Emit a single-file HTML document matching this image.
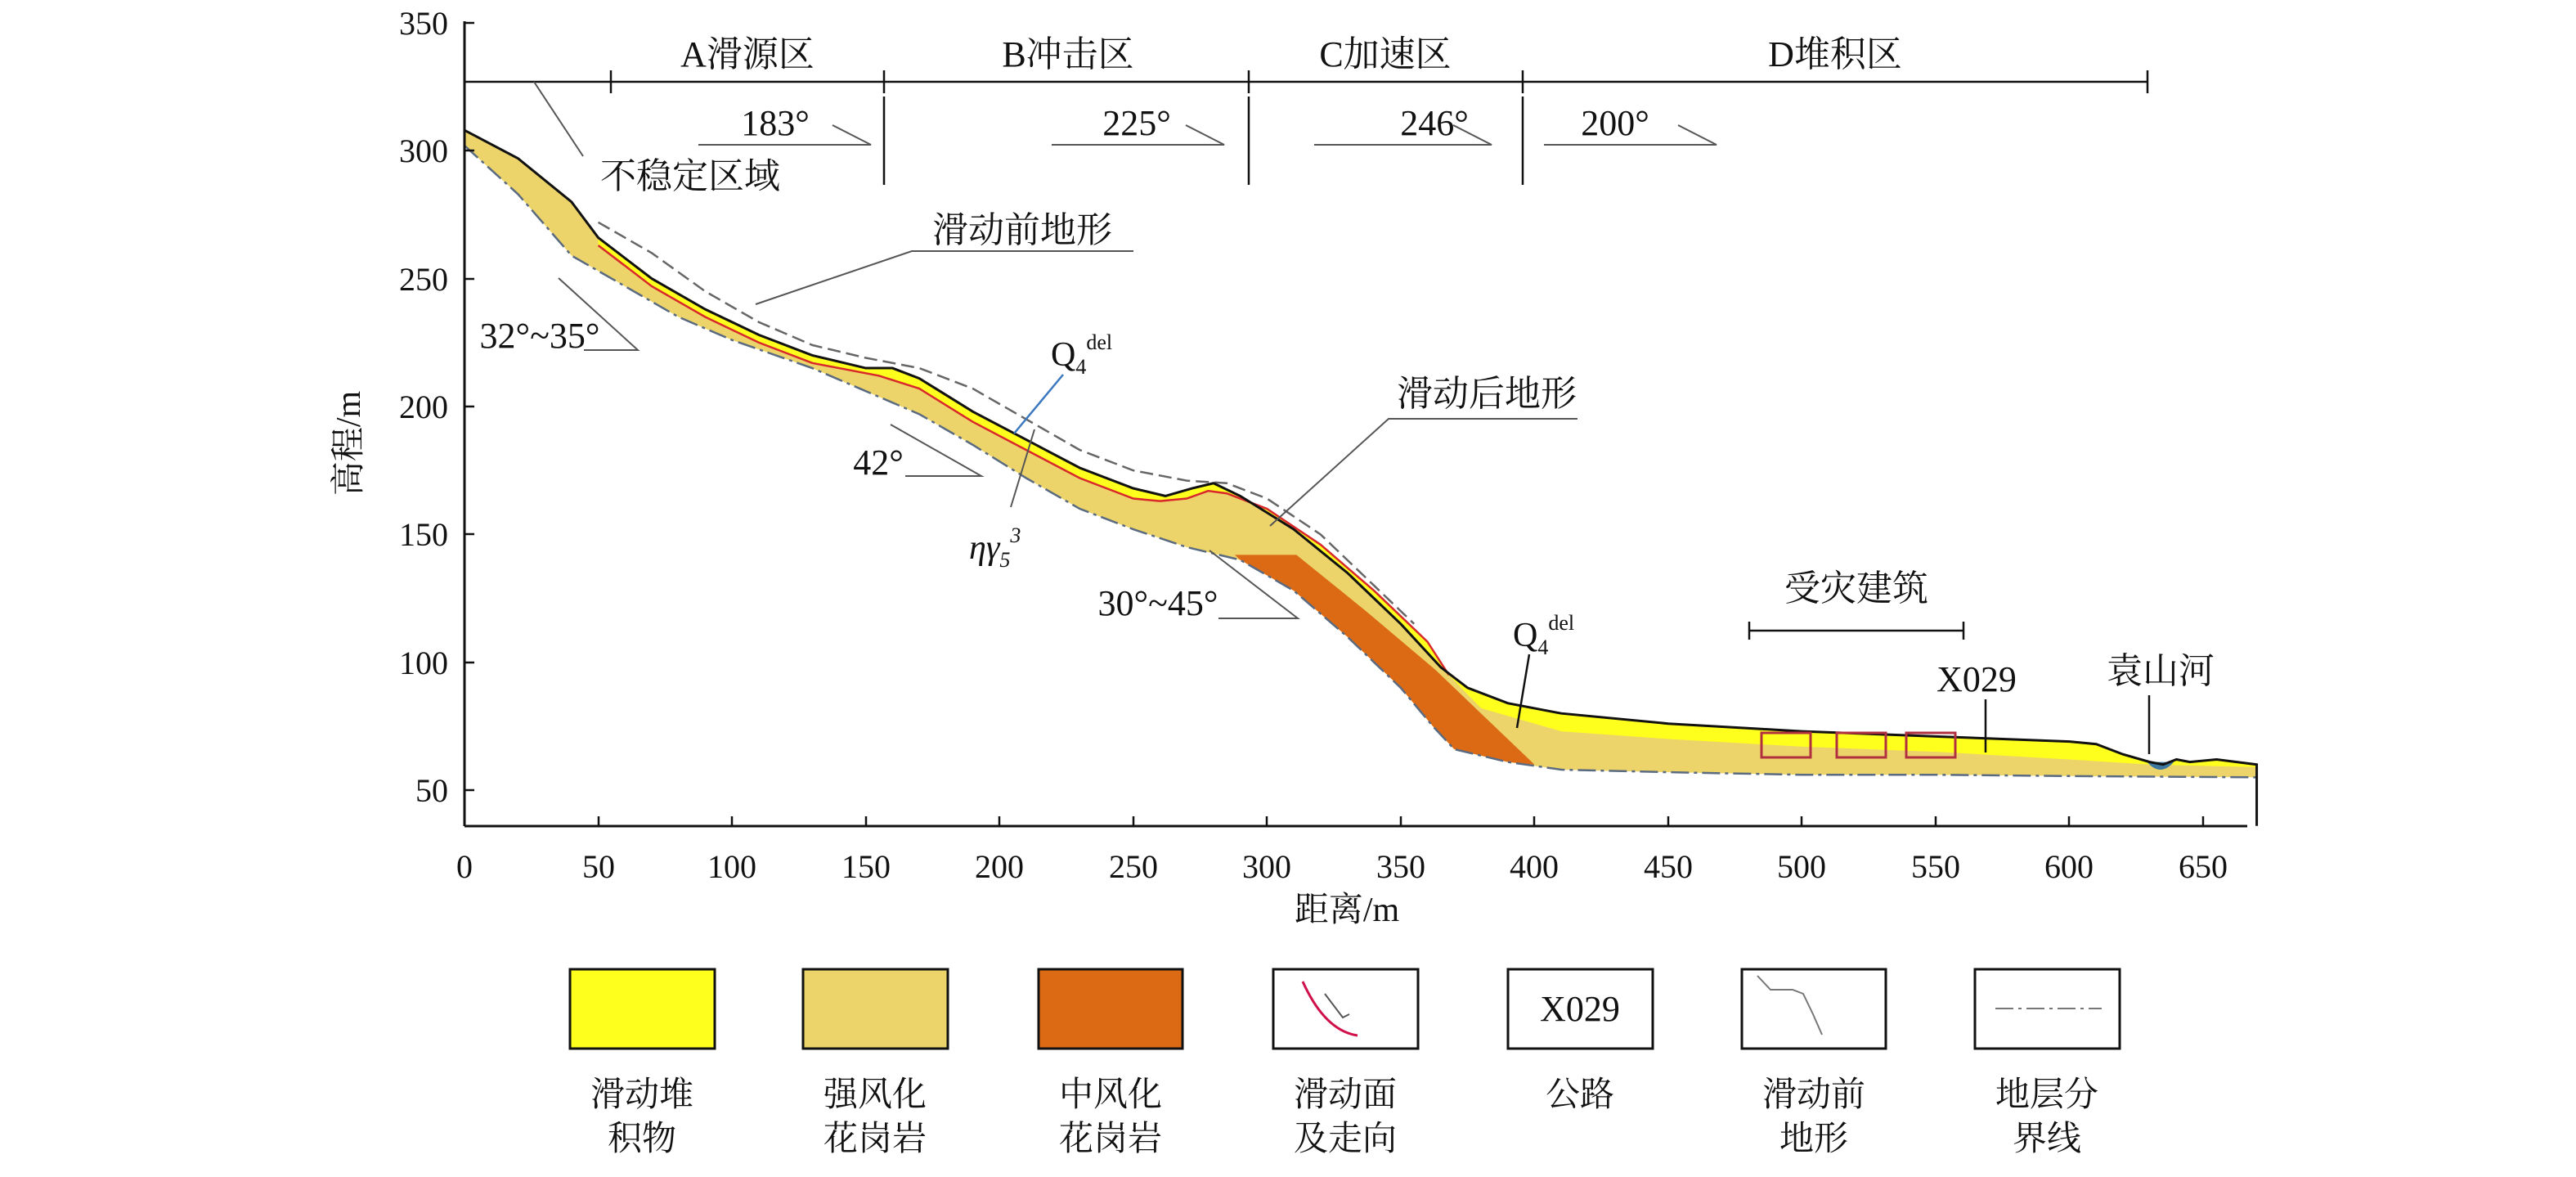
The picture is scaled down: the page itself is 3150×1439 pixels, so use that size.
<!DOCTYPE html>
<html><head><meta charset="utf-8"><style>
html,body{margin:0;padding:0;background:#fff;}
svg text{font-family:"Liberation Serif","Noto Serif CJK SC",serif;fill:#111;}
</style></head><body>
<svg width="3150" height="1434" viewBox="0 0 3150 1434" xmlns="http://www.w3.org/2000/svg">
<rect width="3150" height="1434" fill="#fff"/>
<g transform="matrix(3.271 0 0 -3.127 568 1122.35)">
<polygon fill="#ecd46a" points="0,308 20,297 40,280 50,266 70,250 90,238 110,228 130,220 150,215 160,215 170,211 190,198 210,187 230,176 250,168 262,165 272,168 280,170 290,165 310,152 330,135 350,115 365,98 375,90 390,84 410,80 450,76 500,73 550,71 600,69 610,68 620,64 630,61 635,60 640,62 645,61 655,62 670,60 670,55 600,55.5 550,56 500,56 450,57 410,58 390,61 370,66 362,75 350,90 330,110 310,128 290,140 270,145 250,152 230,160 210,172 190,185 170,197 150,206 130,215 100,226 80,235 60,247 40,259 20,283 0,302"/>
<polygon fill="#ffff1e" points="50,266 70,250 90,238 110,228 130,220 150,215 160,215 170,211 190,198 210,187 230,176 250,168 262,165 272,168 280,170 290,165 310,152 330,135 350,115 365,98 375,90 390,84 410,80 450,76 500,73 550,71 600,69 610,68 620,64 630,61 635,60 640,62 645,61 655,62 670,60 670,59 630,60 600,62 550,65 500,67 450,70 410,73 380,82 368,95 360,108 340,128 320,146 300,160 285,166 278,167 270,164 260,163 250,164 230,172 210,183 190,194 170,207 155,212 130,217 110,225 90,235 70,247 50,263"/>
<polygon fill="#dc6a14" points="288,142 311,142 337,120 363,97 380,80 400,60 390,61 370,66 362,75 350,90 330,110 310,128 290,140"/>
<path d="M629,61 Q634,55 639,61 Z" fill="#3c78a0"/>
<polyline fill="none" stroke="#5a6a80" stroke-width="2.5" vector-effect="non-scaling-stroke" stroke-dasharray="22,6,4,6" points="0,302 20,283 40,259 60,247 80,235 100,226 130,215 150,206 170,197 190,185 210,172 230,160 250,152 270,145 290,140 310,128 330,110 350,90 362,75 370,66 390,61 410,58 450,57 500,56 550,56 600,55.5 670,55"/>
<polyline fill="none" stroke="#d8282c" stroke-width="2.5" vector-effect="non-scaling-stroke" points="50,263 70,247 90,235 110,225 130,217 155,212 170,207 190,194 210,183 230,172 250,164 260,163 270,164 278,167 285,166 300,160 320,146 340,128 360,108 368,95"/>
<polyline fill="none" stroke="#666" stroke-width="2.5" vector-effect="non-scaling-stroke" stroke-dasharray="16,7" points="50,272 70,260 90,245 110,233 130,224 150,219 170,215 190,207 210,195 230,183 250,175 270,171 285,170 300,164 320,150 340,130 355,115"/>
<polyline fill="none" stroke="#111" stroke-width="3" vector-effect="non-scaling-stroke" points="0,308 20,297 40,280 50,266 70,250 90,238 110,228 130,220 150,215 160,215 170,211 190,198 210,187 230,176 250,168 262,165 272,168 280,170 290,165 310,152 330,135 350,115 365,98 375,90 390,84 410,80 450,76 500,73 550,71 600,69 610,68 620,64 630,61 635,60 640,62 645,61 655,62 670,60 670,36"/>
</g>
<g fill="none" stroke="#b03040" stroke-width="3">
<rect x="2154" y="896" width="60" height="30"/><rect x="2246" y="896" width="60" height="30"/><rect x="2331" y="896" width="60" height="30"/>
</g>
<g stroke="#111" stroke-width="3" fill="none">
<line x1="568" y1="26" x2="568" y2="1010"/>
<line x1="568" y1="1010" x2="2748" y2="1010"/>
</g>
<g stroke="#111" stroke-width="2.5">
<line x1="568" y1="28" x2="580" y2="28"/><line x1="568" y1="184" x2="580" y2="184"/><line x1="568" y1="341" x2="580" y2="341"/><line x1="568" y1="497" x2="580" y2="497"/><line x1="568" y1="653" x2="580" y2="653"/><line x1="568" y1="810" x2="580" y2="810"/><line x1="568" y1="966" x2="580" y2="966"/>
<line x1="732" y1="1010" x2="732" y2="998"/><line x1="895" y1="1010" x2="895" y2="998"/><line x1="1059" y1="1010" x2="1059" y2="998"/><line x1="1222" y1="1010" x2="1222" y2="998"/><line x1="1386" y1="1010" x2="1386" y2="998"/><line x1="1549" y1="1010" x2="1549" y2="998"/><line x1="1713" y1="1010" x2="1713" y2="998"/><line x1="1876" y1="1010" x2="1876" y2="998"/><line x1="2040" y1="1010" x2="2040" y2="998"/><line x1="2203" y1="1010" x2="2203" y2="998"/><line x1="2367" y1="1010" x2="2367" y2="998"/><line x1="2530" y1="1010" x2="2530" y2="998"/><line x1="2694" y1="1010" x2="2694" y2="998"/>
</g>
<g font-size="40" text-anchor="end">
<text x="548" y="42">350</text><text x="548" y="198">300</text><text x="548" y="355">250</text><text x="548" y="511">200</text><text x="548" y="667">150</text><text x="548" y="824">100</text><text x="548" y="980">50</text>
</g>
<g font-size="40" text-anchor="middle">
<text x="568" y="1073">0</text><text x="732" y="1073">50</text><text x="895" y="1073">100</text><text x="1059" y="1073">150</text><text x="1222" y="1073">200</text><text x="1386" y="1073">250</text><text x="1549" y="1073">300</text><text x="1713" y="1073">350</text><text x="1876" y="1073">400</text><text x="2040" y="1073">450</text><text x="2203" y="1073">500</text><text x="2367" y="1073">550</text><text x="2530" y="1073">600</text><text x="2694" y="1073">650</text>
<text x="1647" y="1126" font-size="42">距离/m</text>
<text transform="translate(440,542) rotate(-90)" font-size="42">高程/m</text>
</g>
<g stroke="#111" stroke-width="2.5" fill="none">
<line x1="568" y1="100" x2="2626" y2="100"/>
<line x1="747" y1="86" x2="747" y2="114"/><line x1="1081" y1="86" x2="1081" y2="114"/><line x1="1527" y1="86" x2="1527" y2="114"/><line x1="1862" y1="86" x2="1862" y2="114"/><line x1="2626" y1="86" x2="2626" y2="114"/>
<line x1="1081" y1="118" x2="1081" y2="226"/><line x1="1527" y1="118" x2="1527" y2="226"/><line x1="1862" y1="118" x2="1862" y2="226"/>
</g>
<g stroke="#555" stroke-width="2" fill="none">
<polyline points="854,177 1065,177 1018,153"/>
<polyline points="1286,177 1497,177 1450,153"/>
<polyline points="1607,177 1824,177 1777,153"/>
<polyline points="1888,177 2099,177 2052,153"/>
<line x1="653" y1="100" x2="713" y2="191"/>
<polyline points="1386,307 1115,307 924,372"/>
<polyline points="683,340 780,428 714,428"/>
<polyline points="1929,512 1698,512 1553,643"/>
<polyline points="1089,519 1200,582 1107,582"/>
<polyline points="1479,673 1587,756 1490,756"/>
<line x1="1236" y1="620" x2="1265" y2="525"/>
</g>
<g stroke="#111" stroke-width="2.5" fill="none">
<line x1="1300" y1="458" x2="1240" y2="530" stroke="#3c78c0"/>
<line x1="1870" y1="800" x2="1855" y2="890"/>
<line x1="2139" y1="771" x2="2401" y2="771"/><line x1="2139" y1="760" x2="2139" y2="782"/><line x1="2401" y1="760" x2="2401" y2="782"/>
<line x1="2428" y1="855" x2="2428" y2="920"/>
<line x1="2628" y1="850" x2="2628" y2="922"/>
</g>
<g font-size="44" text-anchor="middle">
<text x="914" y="81">A滑源区</text><text x="1306" y="81">B冲击区</text><text x="1694" y="81">C加速区</text><text x="2244" y="81">D堆积区</text>
<text x="948" y="165">183°</text><text x="1390" y="165">225°</text><text x="1754" y="165">246°</text><text x="1975" y="165">200°</text>
<text x="844" y="230">不稳定区域</text>
<text x="1250" y="296">滑动前地形</text>
<text x="660" y="425">32°~35°</text>
<text x="1818" y="496">滑动后地形</text>
<text x="1074" y="580">42°</text>
<text x="1416" y="752">30°~45°</text>
<text x="2270" y="734">受灾建筑</text>
<text x="2417" y="845">X029</text>
<text x="2642" y="835">袁山河</text>
</g>
<g font-size="42">
<text x="1285" y="447">Q<tspan font-size="26" dy="10">4</tspan><tspan font-size="26" dy="-30">del</tspan></text>
<text x="1850" y="790">Q<tspan font-size="26" dy="10">4</tspan><tspan font-size="26" dy="-30">del</tspan></text>
<text x="1185" y="683" font-style="italic">ηγ<tspan font-size="26" dy="10">5</tspan><tspan font-size="26" dy="-30">3</tspan></text>
</g>
<g stroke="#111" stroke-width="3">
<rect x="697" y="1185" width="177" height="97" fill="#ffff1e"/>
<rect x="982" y="1185" width="177" height="97" fill="#ecd46a"/>
<rect x="1270" y="1185" width="176" height="97" fill="#dc6a14"/>
<rect x="1557" y="1185" width="177" height="97" fill="#fff"/>
<rect x="1844" y="1185" width="177" height="97" fill="#fff"/>
<rect x="2130" y="1185" width="176" height="97" fill="#fff"/>
<rect x="2415" y="1185" width="177" height="97" fill="#fff"/>
</g>
<path d="M1593,1200 Q1620,1260 1660,1266" fill="none" stroke="#d0104a" stroke-width="3"/>
<polyline points="1620,1215 1642,1244 1650,1240" fill="none" stroke="#555" stroke-width="2"/>
<polyline points="2149,1193 2165,1210 2192,1210 2205,1215 2217,1240 2228,1265" fill="none" stroke="#777" stroke-width="2"/>
<line x1="2440" y1="1233" x2="2570" y2="1233" stroke="#777" stroke-width="2" stroke-dasharray="22,6,4,6"/>
<text x="1932" y="1248" font-size="44" text-anchor="middle">X029</text>
<g font-size="42" text-anchor="middle">
<text x="785" y="1352">滑动堆</text><text x="785" y="1406">积物</text>
<text x="1070" y="1352">强风化</text><text x="1070" y="1406">花岗岩</text>
<text x="1358" y="1352">中风化</text><text x="1358" y="1406">花岗岩</text>
<text x="1645" y="1352">滑动面</text><text x="1645" y="1406">及走向</text>
<text x="1932" y="1352">公路</text>
<text x="2218" y="1352">滑动前</text><text x="2218" y="1406">地形</text>
<text x="2503" y="1352">地层分</text><text x="2503" y="1406">界线</text>
</g>
</svg>
</body></html>
